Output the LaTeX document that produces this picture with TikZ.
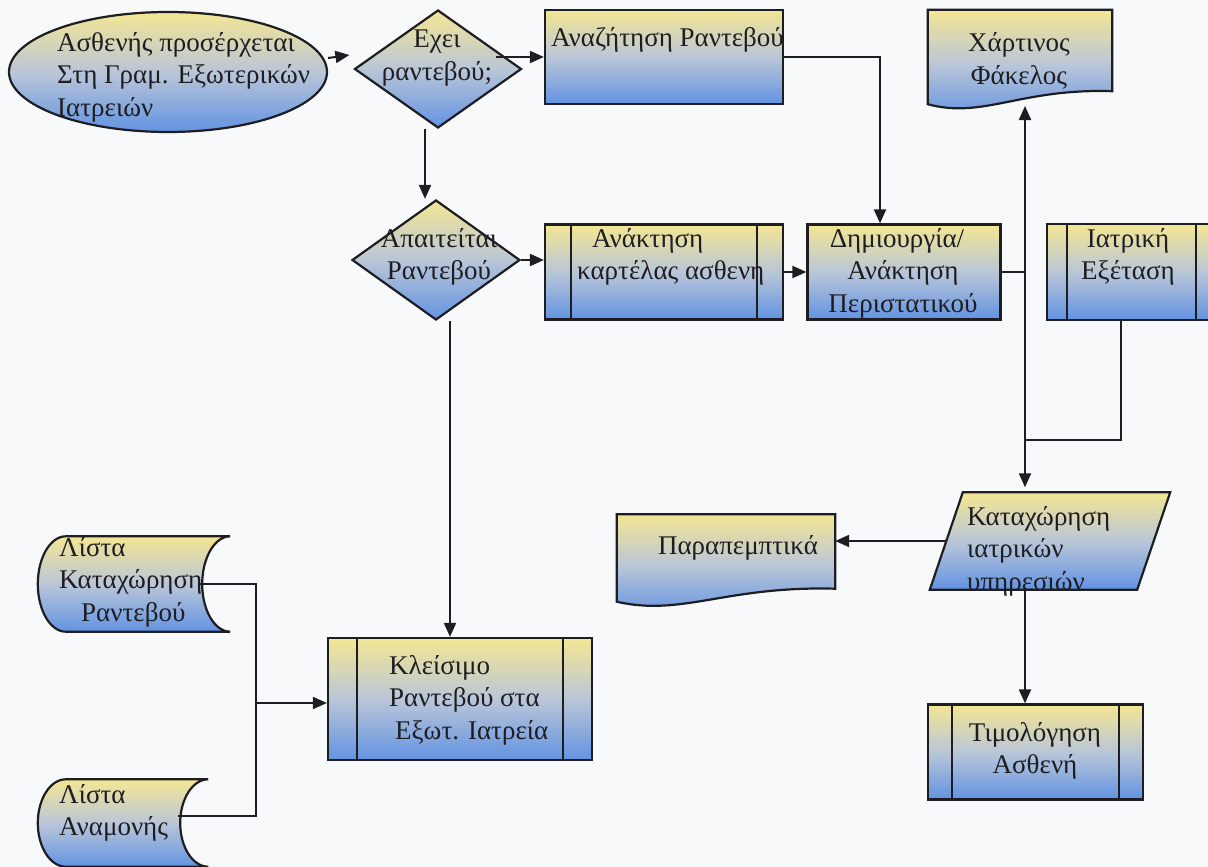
\documentclass[tikz,border=0pt]{standalone}
\usepackage{fontspec}
\setmainfont{Liberation Serif}
\usetikzlibrary{shapes.geometric,arrows.meta,calc}

\definecolor{ytop}{HTML}{F4E693}
\definecolor{ymid}{HTML}{BAC6D8}
\definecolor{ybot}{HTML}{6293E2}
\definecolor{ink}{HTML}{1E1E22}
\definecolor{paper}{HTML}{F8F9FB}

\tikzset{
  grad/.style={top color=ytop, bottom color=ybot, middle color=ymid},
  outline/.style={draw=ink, line width=2.2pt},
  box/.style={rectangle, grad, outline, inner sep=0pt},
  holder/.style={rectangle, inner sep=0pt},
  lbl/.style={inner sep=0pt, font=\fontsize{27}{32.5}\selectfont, text=ink},
  wire/.style={draw=ink, line width=2pt},
  arr/.style={wire, -{Triangle[length=14pt,width=12pt]}},
  arrboth/.style={wire, {Triangle[length=14pt,width=12pt]}-{Triangle[length=14pt,width=12pt]}},
}

% document symbol with a wavy lower edge, drawn over a holder node
\newcommand\drawdocument[1]{%
  \path[grad, outline] let \p1=(#1.north west), \p2=(#1.south east) in
    (\x1,\y1) -- (\x2,\y1) -- (\x2,{\y2+19pt})
    .. controls ({\x1+0.5*(\x2-\x1)},{\y2+22pt}) and ({\x1+0.3*(\x2-\x1)},{\y2-9pt}) .. (\x1,{\y2+6pt})
    -- cycle;}

% stored-data symbol: convex left side, concave right side
\newcommand\drawstored[2]{%
  \path[grad, outline] let \p1=(#1.north west), \p2=(#1.south east) in
    ({\x1+#2},\y1) -- (\x2,\y1)
    .. controls ({\x2-0.552*#2},\y1) and ({\x2-#2},{0.776*\y1+0.224*\y2}) .. ({\x2-#2},{0.5*\y1+0.5*\y2})
    .. controls ({\x2-#2},{0.224*\y1+0.776*\y2}) and ({\x2-0.552*#2},\y2) .. (\x2,\y2)
    -- ({\x1+#2},\y2)
    .. controls ({\x1+0.448*#2},\y2) and (\x1,{0.224*\y1+0.776*\y2}) .. (\x1,{0.5*\y1+0.5*\y2})
    .. controls (\x1,{0.776*\y1+0.224*\y2}) and ({\x1+0.448*#2},\y1) .. ({\x1+#2},\y1)
    -- cycle;}

% input/output parallelogram
\newcommand\drawslanted[2]{%
  \path[grad, outline] let \p1=(#1.north west), \p2=(#1.south east) in
    ({\x1+#2},\y1) -- (\x2,\y1) -- ({\x2-#2},\y2) -- (\x1,\y2) -- cycle;}

% the two inner bars of a predefined-process box
\newcommand\innerbars[2]{%
  \draw[outline] ([xshift=#2]#1.north west) -- ([xshift=#2]#1.south west);
  \draw[outline] ([xshift=-#2]#1.north east) -- ([xshift=-#2]#1.south east);}

\begin{document}
\begin{tikzpicture}[x=1pt, y=-1pt]
  \fill[paper] (0,0) rectangle (1208,867);
  \useasboundingbox (0,0) rectangle (1208,867);

  % ---- shapes ----
  \node[ellipse, grad, outline, minimum width=318pt, minimum height=120pt, inner sep=0pt] (arrive) at (168,72) {};
  \node[diamond, grad, outline, minimum width=167pt, minimum height=118pt, inner sep=0pt] (hasappt) at (438,69) {};
  \node[box, minimum width=238pt, minimum height=94pt] (search) at (664,57) {};
  \node[holder, minimum width=184pt, minimum height=100pt] (folder) at (1020,60) {};
  \drawdocument{folder}

  \node[diamond, grad, outline, minimum width=168pt, minimum height=120pt, inner sep=0pt] (needappt) at (436,260) {};
  \node[box, minimum width=238pt, minimum height=95pt] (chart) at (664,272) {};
  \innerbars{chart}{27pt}
  \node[box, minimum width=193pt, minimum height=95pt] (episode) at (904,272) {};
  \node[box, minimum width=169pt, minimum height=96pt] (exam) at (1131.5,272) {};
  \innerbars{exam}{21pt}

  \node[holder, minimum width=240pt, minimum height=97pt] (record) at (1050,541) {};
  \drawslanted{record}{33pt}
  \node[holder, minimum width=218pt, minimum height=93pt] (referral) at (726,561) {};
  \drawdocument{referral}
  \node[box, minimum width=215pt, minimum height=95pt] (billing) at (1035.5,752) {};
  \innerbars{billing}{25pt}

  \node[box, minimum width=264pt, minimum height=122pt] (booking) at (460,699) {};
  \innerbars{booking}{30pt}
  \node[holder, minimum width=192pt, minimum height=95pt] (apptlist) at (134,584) {};
  \drawstored{apptlist}{28pt}
  \node[holder, minimum width=170pt, minimum height=87pt] (waitlist) at (123,823) {};
  \drawstored{waitlist}{28pt}

  % ---- connectors ----
  \coordinate (filetap) at (1025,106);
  \coordinate (junction) at (1025,440);
  \coordinate (bus) at (256,703);

  \draw[arr] ([yshift=14pt]arrive.east) -- ([yshift=14pt, xshift=-4pt]hasappt.west);
  \draw[arr] ([xshift=-27pt, yshift=12pt]hasappt.east) -- (search.west);
  \draw[arr] ([xshift=-13pt]hasappt.south) -- ([xshift=-13pt]hasappt.south |- needappt.north);
  \draw[arr] (search.east) -| ([xshift=-24pt]episode.north);
  \draw[arr] (needappt.east) -- (needappt.east -| chart.west);
  \draw[arr] (chart.east) -- (episode.west);
  \draw[wire] (episode.east) -- (episode.east -| junction);
  \draw[wire] ([xshift=-11pt]exam.south) |- (junction);
  \draw[arrboth, shorten >=5pt] (filetap) -- (filetap |- record.north);
  \draw[arr] ([xshift=16pt]record.west) -- (record.west -| referral.east);
  \draw[arr] ([xshift=-25pt]record.south) -- ([xshift=-25pt]record.south |- billing.north);
  \draw[arr] ([xshift=14pt]needappt.south) -- ([xshift=14pt]needappt.south |- booking.north);
  \draw[wire] ([xshift=-30pt]apptlist.east) -| (bus);
  \draw[wire] ([xshift=-30pt, yshift=7pt]waitlist.east) -| (bus);
  \draw[arr] (bus) -- (bus -| booking.west);

  % ---- labels ----
  \node[lbl, align=left, anchor=west] (t-arrive) at (57,77) {Ασθενής προσέρχεται\\Στη Γραμ. Εξωτερικών\\Ιατρειών};
  \node[lbl, align=center] (t-has) at (437,58) {Εχει\\ραντεβού;};
  \node[lbl, anchor=west] (t-search) at (551,40) {Αναζήτηση Ραντεβού};
  \node[lbl, align=center] (t-folder) at (1019,61) {Χάρτινος\\Φάκελος};
  \node[lbl, align=center] (t-need) at (439,257) {Απαιτείται\\Ραντεβού};
  \node[lbl, align=left, anchor=west] (t-chart) at (577,257) {\hspace*{15pt}Ανάκτηση\\καρτέλας ασθενη};
  \node[lbl, align=center] (t-episode) at (903,273) {Δημιουργία/\hspace*{12pt}\\Ανάκτηση\\Περιστατικού};
  \node[lbl, align=center] (t-exam) at (1128,257) {Ιατρική\\Εξέταση};
  \node[lbl, align=left, anchor=west] (t-record) at (967,551) {Καταχώρηση\\ιατρικών\\υπηρεσιών};
  \node[lbl] (t-referral) at (738,548) {Παραπεμπτικά};
  \node[lbl, align=center] (t-billing) at (1035,751) {Τιμολόγηση\\Ασθενή};
  \node[lbl, align=left, anchor=west] (t-booking) at (389,700) {Κλείσιμο\\Ραντεβού στα\\\hspace*{6pt}Εξωτ. Ιατρεία};
  \node[lbl, align=left, anchor=west] (t-apptlist) at (59,582) {Λίστα\\Καταχώρηση\\\hspace*{22pt}Ραντεβού};
  \node[lbl, align=left, anchor=west] (t-waitlist) at (59,813) {Λίστα\\Αναμονής};
\end{tikzpicture}
\end{document}
